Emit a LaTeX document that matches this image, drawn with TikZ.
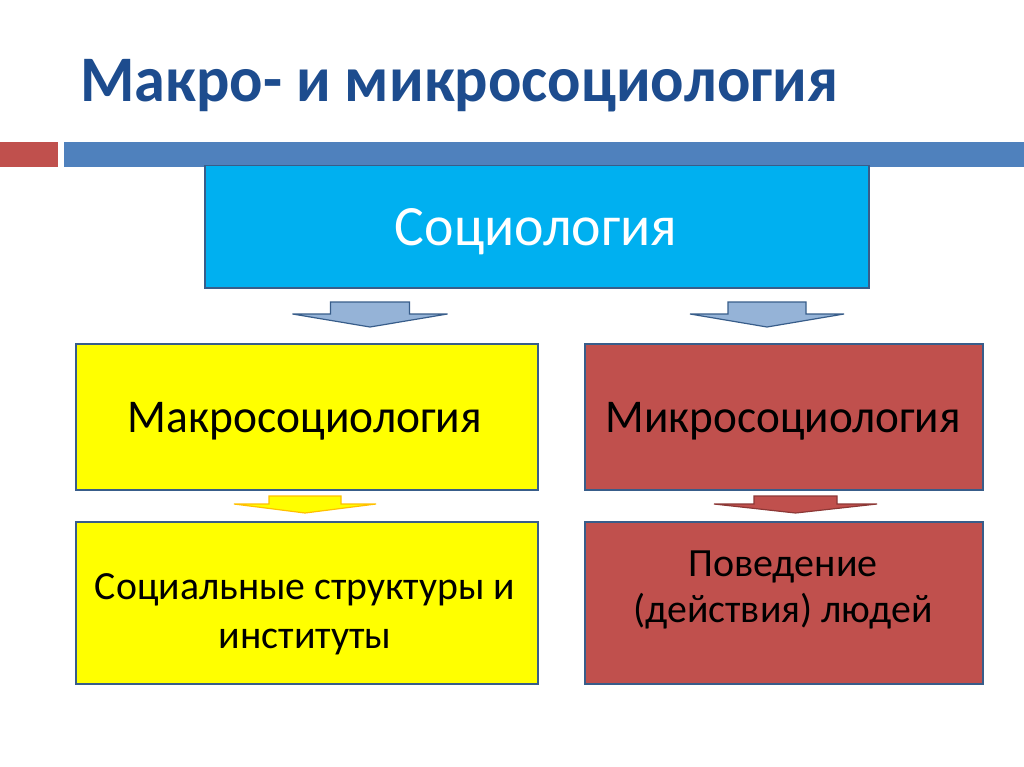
\documentclass[tikz,border=0pt]{standalone}
\usepackage{fontspec}
\setmainfont{Carlito}
\usepackage{graphicx}
\definecolor{titleblue}{HTML}{1D4C8E}
\definecolor{barblue}{HTML}{4F81BD}
\definecolor{barred}{HTML}{C0504D}
\definecolor{boxline}{HTML}{385D8A}
\definecolor{cyanfill}{HTML}{00B0F0}
\definecolor{arrblue}{HTML}{95B3D7}
\definecolor{arrorange}{HTML}{FFC000}
\definecolor{darkred}{HTML}{8C3836}
\definecolor{pureyellow}{HTML}{FFFF00}
\newcommand\blockarr[7]{%
  % #1 style, #2 cx, #3 top, #4 shaft half, #5 head half, #6 head base y, #7 tip y
  \draw[#1] (#2-#4,#3) -- (#2+#4,#3) -- (#2+#4,#6) -- (#2+#5,#6) -- (#2,#7)
    -- (#2-#5,#6) -- (#2-#4,#6) -- cycle;}
\begin{document}
\begin{tikzpicture}[x=1pt,y=-1pt,
  box/.style={draw=boxline, line width=1.5pt, inner sep=0pt, anchor=north west},
  txt/.style={anchor=base, inner sep=0pt, font=\fontsize{40}{49}\selectfont, align=center}]
\useasboundingbox (0,0) rectangle (1024,767);
\fill[white] (0,0) rectangle (1024,767);
% title
\node[anchor=base west, inner sep=0pt, text=titleblue, font=\fontsize{65}{70}\selectfont\bfseries] (title) at (80,102) {\resizebox{758pt}{\height}{Макро- и микросоциология}};
% header bar
\fill[barred] (0,142) rectangle (58,167);
\fill[barblue] (64,142) rectangle (1024,167);
% boxes
\node[box, fill=cyanfill, minimum width=664pt, minimum height=122pt] (soc) at (204,165) {};
\node[box, fill=pureyellow, minimum width=462pt, minimum height=146pt] (macro) at (75,343) {};
\node[box, fill=barred, minimum width=398pt, minimum height=146pt] (micro) at (584,343) {};
\node[box, fill=pureyellow, minimum width=462pt, minimum height=162pt] (struct) at (75,521) {};
\node[box, fill=barred, minimum width=398pt, minimum height=162pt] (beh) at (584,521) {};
% texts
\node[txt, text=white, font=\fontsize{57}{60}\selectfont] (soct) at (536,245) {\resizebox{282pt}{\height}{Социология}};
\node[txt, font=\fontsize{47}{50}\selectfont] (macrot) at (305,432) {\resizebox{354pt}{\height}{Макросоциология}};
\node[txt, font=\fontsize{47}{50}\selectfont] (microt) at (783,432) {\resizebox{355pt}{\height}{Микросоциология}};
\node[txt] (structa) at (305,599) {\resizebox{420pt}{\height}{Социальные структуры и}};
\node[txt] (structb) at (305,648) {институты};
\node[txt] (beha) at (783,576) {Поведение};
\node[txt] (behb) at (783,622) {\resizebox{299pt}{\height}{(действия) людей}};
% block arrows
\blockarr{fill=arrblue, draw=boxline, line width=1.2pt, line join=miter}{370}{302}{39.5}{77.5}{314}{327}
\blockarr{fill=arrblue, draw=boxline, line width=1.2pt, line join=miter}{767}{302}{39}{77}{314}{327}
\blockarr{fill=pureyellow, draw=arrorange, line width=1.2pt, line join=miter}{305}{496}{36}{71}{504}{513}
\blockarr{fill=barred, draw=darkred, line width=1.2pt, line join=miter}{795.5}{496}{41.5}{81.5}{504}{513}
\end{tikzpicture}
\end{document}
